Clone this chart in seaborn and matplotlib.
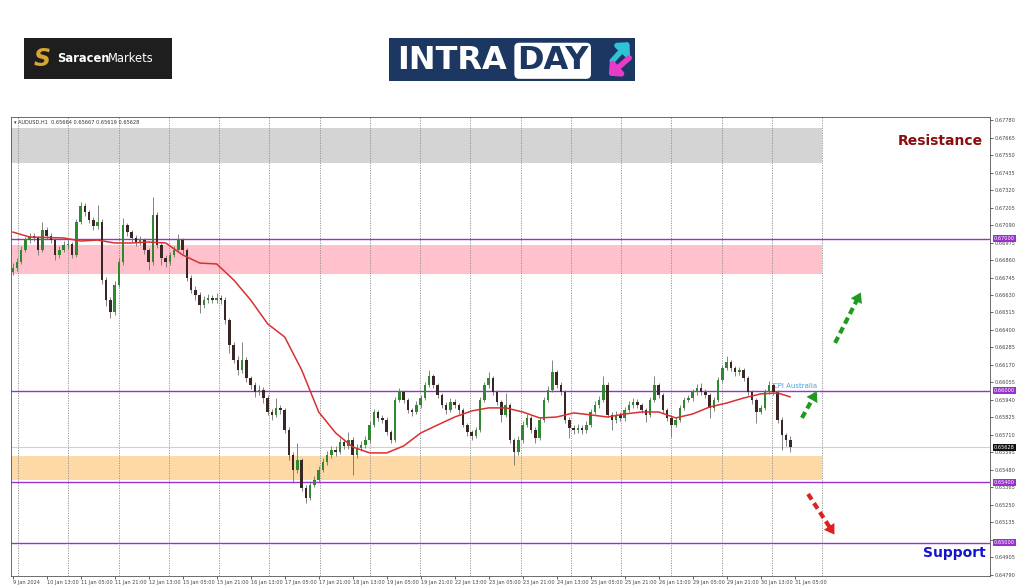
import numpy as np
import matplotlib
matplotlib.use("Agg")
import matplotlib.pyplot as plt
import matplotlib.transforms as mtransforms
import seaborn as sns

# AUDUSD H1, 9 - 31 Jan 2024 (2h steps, prices in 1e-5)
first_open = 66781
closes = [
    66807, 66847, 66926, 66991, 67018, 67005, 66926, 67057, 67018, 66991,
    66893, 66926, 66959, 66965, 66893, 67110, 67215, 67175, 67123, 67083,
    67110, 66729, 66597, 66518, 66696, 66847, 67090, 67044, 67005, 66978,
    66991, 66926, 66847, 67156, 66959, 66873, 66847, 66893, 66926, 66991,
    66926, 66742, 66663, 66630, 66564, 66597, 66610, 66597, 66610, 66597,
    66466, 66302, 66203, 66137, 66203, 66085, 66039, 65993, 66006, 65953,
    65861, 65842, 65888, 65874, 65743, 65579, 65480, 65546, 65362, 65297,
    65382, 65414, 65480, 65533, 65579, 65612, 65598, 65664, 65638, 65677,
    65579, 65625, 65644, 65677, 65776, 65861, 65822, 65809, 65730, 65677,
    65940, 65993, 65940, 65874, 65861, 65907, 65953, 66039, 66098, 66039,
    65973, 65907, 65874, 65927, 65907, 65874, 65776, 65730, 65704, 65743,
    65940, 66039, 66085, 65993, 65927, 65842, 65907, 65677, 65598, 65677,
    65776, 65822, 65743, 65691, 65809, 65940, 66006, 66124, 66039, 65993,
    65809, 65756, 65743, 65756, 65743, 65776, 65861, 65907, 65940, 66039,
    65842, 65809, 65842, 65822, 65874, 65907, 65927, 65907, 65874, 65842,
    65940, 66039, 65973, 65874, 65822, 65776, 65809, 65888, 65940, 65953,
    65993, 66019, 65993, 65973, 65888, 65940, 66071, 66150, 66190, 66150,
    66124, 66137, 66085, 65993, 65940, 65861, 65888, 65993, 66039, 65993,
    65809, 65710, 65677, 65628,
]
highs = [
    66840, 66870, 66950, 67010, 67040, 67035, 67020, 67110, 67075, 67035,
    67005, 66950, 66985, 66990, 66980, 67130, 67241, 67235, 67190, 67140,
    67221, 67130, 66750, 66620, 66720, 66870, 67136, 67105, 67060, 67025,
    67020, 67005, 66940, 67274, 67175, 66975, 66890, 66915, 66950, 67031,
    67005, 66940, 66760, 66690, 66650, 66625, 66635, 66630, 66640, 66630,
    66615, 66480, 66320, 66230, 66321, 66220, 66100, 66060, 66040, 66025,
    65970, 65880, 65953, 65910, 65890, 65760, 65600, 65658, 65560, 65380,
    65405, 65440, 65505, 65560, 65605, 65640, 65635, 65690, 65685, 65730,
    65695, 65650, 65670, 65700, 65800, 65880, 65875, 65840, 65825, 65745,
    65960, 66019, 66005, 65955, 65890, 65930, 65975, 66060, 66137, 66110,
    66050, 65985, 65925, 65950, 65945, 65920, 65885, 65790, 65745, 65765,
    65960, 66060, 66124, 66095, 66005, 65940, 65986, 65920, 65690, 65700,
    65800, 65845, 65835, 65760, 65830, 65960, 66030, 66203, 66140, 66055,
    66005, 65825, 65775, 65780, 65775, 65800, 65880, 65930, 65965, 66098,
    66055, 65860, 65865, 65860, 65895, 65930, 65950, 65945, 65920, 65890,
    65960, 66098, 66050, 65985, 65890, 65840, 65830, 65910, 65960, 65975,
    66015, 66045, 66052, 66010, 65985, 65960, 66090, 66170, 66230, 66205,
    66165, 66160, 66150, 66100, 66005, 65955, 65910, 66015, 66065, 66050,
    66005, 65825, 65720, 65700,
]
lows = [
    66760, 66790, 66835, 66910, 66975, 66985, 66890, 66910, 67000, 66970,
    66860, 66875, 66910, 66935, 66873, 66880, 67095, 67150, 67100, 67060,
    67065, 66700, 66560, 66479, 66500, 66680, 66830, 67020, 66980, 66950,
    66960, 66900, 66794, 66830, 66940, 66827, 66815, 66830, 66880, 66910,
    66900, 66720, 66640, 66600, 66512, 66545, 66580, 66575, 66580, 66570,
    66440, 66249, 66180, 66104, 66120, 66060, 66010, 65960, 65975, 65920,
    65840, 65809, 65825, 65850, 65720, 65546, 65395, 65460, 65340, 65263,
    65280, 65365, 65400, 65465, 65515, 65560, 65575, 65585, 65615, 65620,
    65447, 65560, 65605, 65625, 65660, 65760, 65800, 65790, 65710, 65658,
    65665, 65925, 65920, 65855, 65835, 65845, 65890, 65940, 66025, 66020,
    65950, 65885, 65850, 65860, 65885, 65850, 65760, 65705, 65677, 65690,
    65730, 65925, 66020, 65975, 65905, 65796, 65830, 65660, 65513, 65580,
    65660, 65760, 65725, 65658, 65675, 65795, 65925, 65990, 66020, 65975,
    65790, 65691, 65715, 65720, 65715, 65725, 65760, 65845, 65890, 65925,
    65825, 65743, 65790, 65800, 65805, 65860, 65890, 65885, 65855, 65796,
    65825, 65925, 65955, 65855, 65800, 65697, 65760, 65795, 65875, 65925,
    65935, 65975, 65975, 65950, 65822, 65870, 65925, 66055, 66135, 66130,
    66100, 66105, 66065, 65975, 65915, 65789, 65845, 65875, 65980, 65975,
    65790, 65612, 65640, 65598,
]

# red moving average, read every 8 hours (+ last bar)
ma_hours = list(range(0, 361, 8)) + [366]
ma_values = [
    67044, 67011, 67008, 67005, 66985, 66991, 66972, 66972, 66978, 66972,
    66893, 66840, 66834, 66729, 66597, 66440, 66354, 66137, 65861, 65723,
    65631, 65592, 65592, 65638, 65723, 65776, 65828, 65868, 65888, 65888,
    65861, 65822, 65828, 65855, 65842, 65828, 65848, 65861, 65861, 65822,
    65848, 65894, 65920, 65953, 65980, 65986, 65960,
]

time_labels = [
    "9 Jan 2024", "10 Jan 13:00", "11 Jan 05:00", "11 Jan 21:00", "12 Jan 13:00",
    "15 Jan 05:00", "15 Jan 21:00", "16 Jan 13:00", "17 Jan 05:00", "17 Jan 21:00",
    "18 Jan 13:00", "19 Jan 05:00", "19 Jan 21:00", "22 Jan 13:00", "23 Jan 05:00",
    "23 Jan 21:00", "24 Jan 13:00", "25 Jan 05:00", "25 Jan 21:00", "26 Jan 13:00",
    "29 Jan 05:00", "29 Jan 21:00", "30 Jan 13:00", "31 Jan 05:00",
]
price_ticks = [0.67780 - 0.00115 * i for i in range(27)]
key_levels = [0.67000, 0.66000, 0.65400, 0.65000]
last_price = 0.65628
resistance_zone = (0.67497, 0.67727)
sell_zone = (0.66768, 0.66959)
buy_zone = (0.65414, 0.65572)

# ---- build candles
c = np.array(closes) / 1e5
o = np.array([first_open] + closes[:-1]) / 1e5
h = np.array(highs) / 1e5
l = np.array(lows) / 1e5
t = np.arange(len(c)) * 2.0
up = c >= o

sns.set_style("white")
plt.rcParams["font.family"] = ["DejaVu Sans"]

fig = plt.figure(figsize=(10.24, 5.87), dpi=100)
fig.patch.set_facecolor("white")
ax = fig.add_axes([11 / 1024, 1 - 576 / 587, 979 / 1024, 459 / 587])
x_end = 979 / 2.125 - 0.8
ax.set_xlim(-0.8, x_end)
ax.set_ylim(0.64783, 0.67800)
zone_frac = (822 - 11) / 979

# zones
ax.axhspan(*resistance_zone, xmin=0, xmax=zone_frac, color="#d4d4d4", lw=0, zorder=0)
ax.axhspan(*sell_zone, xmin=0, xmax=zone_frac, color="#ffc2cd", lw=0, zorder=0)
ax.axhspan(*buy_zone, xmin=0, xmax=zone_frac, color="#fdd9a6", lw=0, zorder=0)

# dotted vertical grid
for gx in np.linspace(2.5, 380.9, 17):
    ax.axvline(gx, color="#8c8c8c", lw=0.6, ls=(0, (1.5, 1.5)), zorder=1)

# levels
ax.axhline(last_price, color="#d0d0d0", lw=0.8, zorder=1)
for lvl in key_levels:
    ax.axhline(lvl, color="#9b30d0", lw=1.0, zorder=2)

# candles
ax.vlines(t, l, h, color="#707070", lw=0.6, zorder=3)
body_lo = np.minimum(o, c)
body_h = np.maximum(np.abs(c - o), 0.00004)
ax.bar(t[up], body_h[up], bottom=body_lo[up], width=1.15, color="#2f8a2f", lw=0, zorder=4)
ax.bar(t[~up], body_h[~up], bottom=body_lo[~up], width=1.15, color="#3b2626", lw=0, zorder=4)

# moving average
sns.lineplot(x=ma_hours, y=np.array(ma_values) / 1e5, ax=ax, color="#d83030", lw=1.1, zorder=5)

# right price scale (the tick hidden behind the 0.65000 tag stays blank)
ax.yaxis.tick_right()
ax.set_yticks(price_ticks)
tick_text = [f"{p:.5f}" for p in price_ticks]
tick_text[24] = ""
ax.set_yticklabels(tick_text, fontsize=3.6, color="#444444")
ax.tick_params(axis="y", length=2, width=0.5, pad=1.5, right=True, left=False)
ax.set_xticks(np.arange(len(time_labels)) * 16)
ax.set_xticklabels(time_labels, fontsize=3.6, color="#444444", ha="left")
ax.tick_params(axis="x", length=2, width=0.5, pad=1, bottom=True)
ax.set_xlabel("")
ax.set_ylabel("")
for s in ax.spines.values():
    s.set_color("#555555")
    s.set_linewidth(0.6)

trans = mtransforms.blended_transform_factory(ax.transAxes, ax.transData)
for lvl in key_levels:
    ax.text(1.004, lvl, f"{lvl:.5f}", transform=trans, fontsize=3.6, color="white",
            va="center", ha="left", zorder=10,
            bbox=dict(boxstyle="square,pad=0.2", fc="#9b30d0", ec="none"))
ax.text(1.004, last_price, f"{last_price:.5f}", transform=trans, fontsize=3.6, color="white",
        va="center", ha="left", zorder=10,
        bbox=dict(boxstyle="square,pad=0.2", fc="#111111", ec="none"))

ax.text(0.003, 0.995, "\u25be AUDUSD,H1  0.65664 0.65667 0.65619 0.65628",
        transform=ax.transAxes, fontsize=3.6, color="#333333", va="top", ha="left")

# annotations
ax.text(456.6, 0.67642, "Resistance", ha="right", va="center", fontsize=10,
        fontweight="heavy", color="#8b0d0d")
ax.text(458, 0.64935, "Support", ha="right", va="center", fontsize=10,
        fontweight="heavy", color="#1414cc")
ax.text(357.8, 0.66012, "CPI Australia", ha="left", va="bottom", fontsize=5,
        color="#4a9ee0")


def dashed_arrow(x0, y0, x1, y1, color):
    ax.plot([x0, x1 - (x1 - x0) * 0.15], [y0, y1 - (y1 - y0) * 0.15], color=color,
            lw=3, ls=(0, (1.6, 1.0)), solid_capstyle="butt", zorder=6)
    ax.annotate("", xy=(x1, y1), xytext=(x1 - (x1 - x0) * 0.3, y1 - (y1 - y0) * 0.3),
                arrowprops=dict(arrowstyle="-|>,head_length=0.7,head_width=0.45",
                                color=color, lw=0.01, mutation_scale=10), zorder=6)


dashed_arrow(371.4, 0.65822, 379.0, 0.66012, "#1f9a1f")
dashed_arrow(387.0, 0.66315, 399.7, 0.66663, "#1f9a1f")
dashed_arrow(374.3, 0.65322, 387.4, 0.65040, "#e02020")

# ---- logos
lg = fig.add_axes([24 / 1024, 1 - 79 / 587, 148 / 1024, 41 / 587])
lg.set_facecolor("#1e1e1e")
lg.set_xticks([])
lg.set_yticks([])
for s in lg.spines.values():
    s.set_visible(False)
lg.text(0.12, 0.48, "S", fontsize=17, fontweight="bold", fontstyle="italic",
        color="#d9a630", ha="center", va="center")
lg.text(0.225, 0.5, "Saracen", fontsize=8.3, fontweight="bold", color="white",
        ha="left", va="center")
lg.text(0.565, 0.5, "Markets", fontsize=8.3, color="white", ha="left", va="center")

il = fig.add_axes([389 / 1024, 1 - 81 / 587, 246 / 1024, 43 / 587])
il.set_facecolor("#1c3761")
il.set_xlim(0, 1)
il.set_ylim(0, 1)
il.set_xticks([])
il.set_yticks([])
for s in il.spines.values():
    s.set_visible(False)
il.text(0.035, 0.47, "INTRA", fontsize=23, fontweight="bold", color="white",
        ha="left", va="center")
il.text(0.52, 0.47, "DAY", fontsize=23, fontweight="bold", color="#1c3761",
        ha="left", va="center",
        bbox=dict(boxstyle="round,pad=0.08,rounding_size=0.15", fc="white", ec="none"))
il.annotate("", xy=(0.985, 0.95), xytext=(0.9, 0.42),
            arrowprops=dict(arrowstyle="-|>,head_length=0.5,head_width=0.5",
                            color="#2ec4d8", lw=4, mutation_scale=10))
il.annotate("", xy=(0.885, 0.08), xytext=(0.985, 0.58),
            arrowprops=dict(arrowstyle="-|>,head_length=0.5,head_width=0.5",
                            color="#e63cc8", lw=4, mutation_scale=10))

fig.savefig("out.png", dpi=100, facecolor="white")
